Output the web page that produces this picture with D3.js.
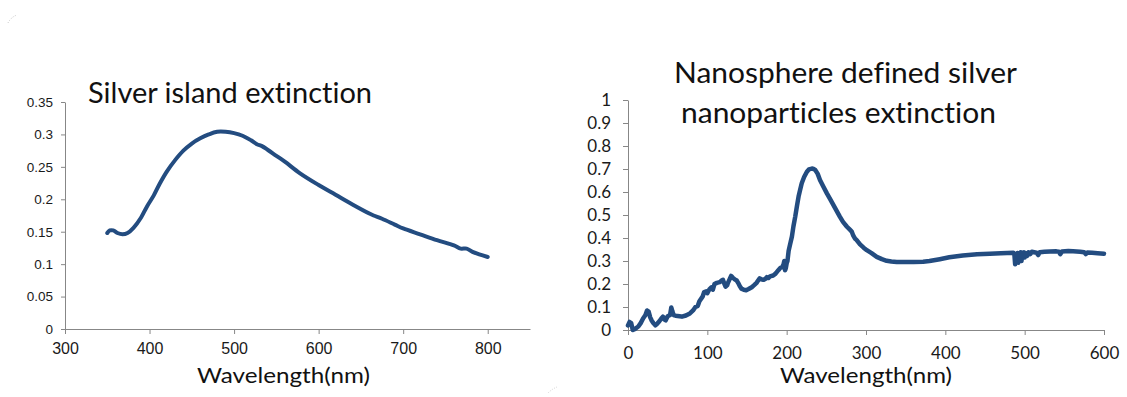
<!DOCTYPE html>
<html>
<head>
<meta charset="utf-8">
<script src="https://cdn.jsdelivr.net/npm/d3@7"></script>
<style>
  html, body { margin: 0; padding: 0; background: #ffffff; }
  svg { display: block; }
  text { font-variant-ligatures: none; font-feature-settings: "liga" 0, "clig" 0; }
</style>
</head>
<body>
<svg id="chart" width="1127" height="397"></svg>
<script>
// Silver island film: extinction vs wavelength (nm)
const islandWavelength = [350, 353, 357, 362, 368, 374, 381, 390, 397, 405, 412, 420, 430, 440, 450, 460, 470, 480, 490, 500, 510, 520, 527, 533, 540, 550, 560, 578, 600, 620, 640, 660, 665, 675, 690, 700, 720, 740, 760, 768, 775, 782, 790, 800];
const islandExtinction = [0.148, 0.152, 0.152, 0.148, 0.146, 0.148, 0.156, 0.172, 0.189, 0.206, 0.224, 0.242, 0.260, 0.275, 0.286, 0.294, 0.300, 0.304, 0.304, 0.302, 0.298, 0.291, 0.285, 0.282, 0.276, 0.267, 0.258, 0.240, 0.222, 0.207, 0.192, 0.178, 0.175, 0.170, 0.161, 0.155, 0.146, 0.137, 0.129, 0.124, 0.124, 0.119, 0.115, 0.111];

// Nanosphere-defined silver nanoparticles: extinction vs wavelength (nm)
const nanoWavelength = [0, 2, 4, 6, 9, 13, 16, 19, 22, 24, 26, 28, 30, 32, 34.5, 37, 39.5, 42, 44, 46, 47.5, 50, 53, 54.6, 56, 57.5, 60, 65, 68, 73, 78, 82, 85, 88, 90, 94, 96, 98.6, 100, 102.8, 105, 107, 109, 112, 115.5, 118, 119.7, 121, 123, 125, 126, 128, 130, 132, 134.6, 137, 138.8, 141, 143, 146, 149, 152, 156, 159, 162, 164, 166, 168, 170.6, 173, 175, 176.9, 179, 183, 186, 189.5, 192, 194, 196, 197, 198, 199, 200, 201, 202.5, 204.5, 206.6, 208.5, 210.8, 213, 215, 217, 219, 222, 225.5, 228, 231.8, 234, 236, 239, 242, 246, 250.7, 255, 259, 263, 267, 271, 276, 280, 282, 284, 286, 288, 292.5, 297, 301, 307, 313.5, 320, 326, 332, 338.7, 350, 360, 372, 380, 393, 405, 422, 440, 456, 470, 485.7, 487, 488, 489, 490, 491, 492, 493, 494, 495, 496, 497, 499, 500, 501, 503, 505, 507, 509, 512, 515, 517, 519, 525, 532, 540, 543, 545, 547, 555, 561, 570, 575, 577, 579, 585, 592, 600];
const nanoExtinction = [0.020, 0.035, 0.030, 0.000, 0.005, 0.015, 0.030, 0.050, 0.065, 0.085, 0.080, 0.055, 0.040, 0.030, 0.020, 0.028, 0.038, 0.050, 0.058, 0.045, 0.042, 0.060, 0.065, 0.098, 0.080, 0.065, 0.062, 0.060, 0.058, 0.063, 0.072, 0.085, 0.100, 0.105, 0.125, 0.145, 0.165, 0.168, 0.160, 0.178, 0.185, 0.175, 0.200, 0.205, 0.208, 0.215, 0.218, 0.205, 0.188, 0.195, 0.205, 0.220, 0.235, 0.228, 0.220, 0.215, 0.205, 0.190, 0.180, 0.175, 0.173, 0.178, 0.186, 0.195, 0.205, 0.215, 0.225, 0.220, 0.218, 0.222, 0.230, 0.226, 0.233, 0.237, 0.245, 0.260, 0.270, 0.272, 0.285, 0.300, 0.260, 0.270, 0.290, 0.300, 0.345, 0.375, 0.406, 0.450, 0.493, 0.540, 0.580, 0.610, 0.638, 0.665, 0.688, 0.698, 0.702, 0.700, 0.696, 0.680, 0.652, 0.625, 0.594, 0.568, 0.543, 0.518, 0.493, 0.470, 0.449, 0.435, 0.428, 0.410, 0.398, 0.392, 0.372, 0.358, 0.347, 0.334, 0.318, 0.308, 0.301, 0.298, 0.296, 0.296, 0.296, 0.297, 0.300, 0.308, 0.316, 0.324, 0.329, 0.332, 0.334, 0.336, 0.330, 0.286, 0.330, 0.300, 0.335, 0.292, 0.330, 0.310, 0.338, 0.300, 0.332, 0.338, 0.315, 0.335, 0.322, 0.338, 0.330, 0.340, 0.338, 0.336, 0.326, 0.338, 0.340, 0.341, 0.342, 0.340, 0.330, 0.341, 0.343, 0.342, 0.340, 0.338, 0.330, 0.337, 0.336, 0.334, 0.332];

// Tick values and their labels
const islandXTicks = [300, 400, 500, 600, 700, 800];
const islandYTicks = [0, 0.05, 0.1, 0.15, 0.2, 0.25, 0.3, 0.35];
const islandYLabels = ["0", "0.05", "0.1", "0.15", "0.2", "0.25", "0.3", "0.35"];
const nanoXTicks = [0, 100, 200, 300, 400, 500, 600];
const nanoYTicks = [0, 0.1, 0.2, 0.3, 0.4, 0.5, 0.6, 0.7, 0.8, 0.9, 1];
const nanoYLabels = ["0", "0.1", "0.2", "0.3", "0.4", "0.5", "0.6", "0.7", "0.8", "0.9", "1"];

const titleLeft = "Silver island extinction";
const titleRight = ["Nanosphere defined silver", "nanoparticles extinction"];
const xAxisTitle = "Wavelength(nm)";

const LINE = "#234c80";
const AXIS = "#878787";
const HUMANIST = "Lato, 'Open Sans', sans-serif";
const ARIAL = "'Liberation Sans', Arial, sans-serif";

const svg = d3.select("#chart");

// faint corner remnants of the slide frames
svg.append("path").attr("d", "M8,23 Q11,17 17,15")
  .attr("fill", "none").attr("stroke", "#c4c4c4").attr("stroke-width", 1).attr("stroke-dasharray", "1,1.5");
svg.append("path").attr("d", "M548,393 Q552,389 557,387")
  .attr("fill", "none").attr("stroke", "#d0d0d0").attr("stroke-width", 1).attr("stroke-dasharray", "1,1.5");

function styleAxis(g) {
  g.select(".domain").attr("stroke", AXIS).attr("stroke-width", 1);
  g.selectAll(".tick line").attr("stroke", AXIS).attr("stroke-width", 1);
  g.selectAll(".tick text").attr("fill", "#1a1a1a");
}

// ---------- Left panel: silver island ----------
const xL = d3.scaleLinear().domain([300, 850]).range([65, 530]);
const yL = d3.scaleLinear().domain([0, 0.35]).range([329, 102]);

const gLy = svg.append("g").attr("transform", `translate(${xL(300)},0)`)
  .call(d3.axisLeft(yL).tickValues(islandYTicks)
    .tickFormat((d, i) => islandYLabels[i]).tickSize(4).tickSizeOuter(0).tickPadding(8));
gLy.selectAll(".tick text").attr("font-family", ARIAL).attr("font-size", 13.5);
styleAxis(gLy);

const gLx = svg.append("g").attr("transform", `translate(0,${yL(0)})`)
  .call(d3.axisBottom(xL).tickValues(islandXTicks).tickFormat(d3.format("d"))
    .tickSize(5).tickSizeOuter(0).tickPadding(9));
gLx.selectAll(".tick text").attr("font-family", ARIAL).attr("font-size", 16);
styleAxis(gLx);

svg.append("path")
  .datum(islandWavelength.map((w, i) => [w, islandExtinction[i]]))
  .attr("fill", "none").attr("stroke", LINE).attr("stroke-width", 4)
  .attr("stroke-linejoin", "round").attr("stroke-linecap", "round")
  .attr("d", d3.line().x(d => xL(d[0])).y(d => yL(d[1])).curve(d3.curveCatmullRom));

svg.append("text").attr("x", 88).attr("y", 103)
  .attr("font-family", HUMANIST).attr("font-size", 28).attr("fill", "#111")
  .attr("textLength", 284).attr("lengthAdjust", "spacingAndGlyphs")
  .text(titleLeft);

svg.append("text").attr("x", 197).attr("y", 383)
  .attr("font-family", HUMANIST).attr("font-size", 21).attr("fill", "#111")
  .attr("textLength", 173).attr("lengthAdjust", "spacingAndGlyphs")
  .text(xAxisTitle);

// ---------- Right panel: nanosphere-defined nanoparticles ----------
const xR = d3.scaleLinear().domain([0, 600]).range([628, 1104]);
const yR = d3.scaleLinear().domain([0, 1]).range([330, 100]);

const gRy = svg.append("g").attr("transform", `translate(${xR(0)},0)`)
  .call(d3.axisLeft(yR).tickValues(nanoYTicks)
    .tickFormat((d, i) => nanoYLabels[i]).tickSize(5).tickSizeOuter(0).tickPadding(12));
gRy.selectAll(".tick text").attr("font-family", HUMANIST).attr("font-size", 17);
styleAxis(gRy);

const gRx = svg.append("g").attr("transform", `translate(0,${yR(0)})`)
  .call(d3.axisBottom(xR).tickValues(nanoXTicks).tickFormat(d3.format("d"))
    .tickSize(5).tickSizeOuter(0).tickPadding(12));
gRx.selectAll(".tick text").attr("font-family", HUMANIST).attr("font-size", 17);
styleAxis(gRx);

svg.append("path")
  .datum(nanoWavelength.map((w, i) => [w, nanoExtinction[i]]))
  .attr("fill", "none").attr("stroke", LINE).attr("stroke-width", 4.5)
  .attr("stroke-linejoin", "round").attr("stroke-linecap", "round")
  .attr("d", d3.line().x(d => xR(d[0])).y(d => yR(d[1])));

svg.append("text").attr("x", 674).attr("y", 83)
  .attr("font-family", HUMANIST).attr("font-size", 28).attr("fill", "#111")
  .attr("textLength", 343).attr("lengthAdjust", "spacingAndGlyphs")
  .text(titleRight[0]);
svg.append("text").attr("x", 681).attr("y", 123)
  .attr("font-family", HUMANIST).attr("font-size", 28).attr("fill", "#111")
  .attr("textLength", 315).attr("lengthAdjust", "spacingAndGlyphs")
  .text(titleRight[1]);

svg.append("text").attr("x", 780).attr("y", 383)
  .attr("font-family", HUMANIST).attr("font-size", 21).attr("fill", "#111")
  .attr("textLength", 172).attr("lengthAdjust", "spacingAndGlyphs")
  .text(xAxisTitle);
</script>
</body>
</html>
